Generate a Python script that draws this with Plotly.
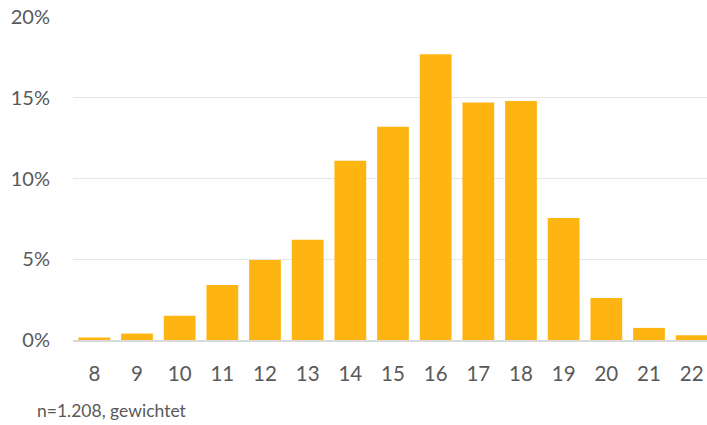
import plotly.graph_objects as go

categories = ["8", "9", "10", "11", "12", "13", "14", "15", "16", "17", "18", "19", "20", "21", "22"]
shares = [0.15, 0.4, 1.5, 3.4, 4.95, 6.2, 11.1, 13.2, 17.7, 14.7, 14.8, 7.55, 2.6, 0.75, 0.3]
y_ticks = [0, 5, 10, 15, 20]
y_tick_labels = ["0%", "5%", "10%", "15%", "20%"]
note = "n=1.208, gewichtet"

font_family = "Lato, Open Sans, sans-serif"
grey = "#595959"

fig = go.Figure(go.Bar(
    x=categories, y=shares,
    marker=dict(color="#FFB511", line=dict(width=0)),
))

fig.update_layout(
    width=707, height=425,
    margin=dict(l=73, r=0, t=17, b=85),
    paper_bgcolor="white", plot_bgcolor="white",
    bargap=0.255,
    showlegend=False,
    font=dict(family=font_family, color=grey, size=20),
    xaxis=dict(
        type="category",
        range=[-0.5, 14.36],
        showgrid=False,
        showline=True, linecolor="#D9D9D9", linewidth=2,
        ticks="", ticklabelstandoff=14,
        tickfont=dict(size=20.5, color=grey, family=font_family),
    ),
    yaxis=dict(
        range=[0, 20],
        tickvals=y_ticks, ticktext=y_tick_labels,
        showgrid=True, gridcolor="#E6E6E6", gridwidth=1,
        zeroline=False, showline=False,
        ticks="", ticklabelstandoff=22,
        tickfont=dict(size=20, color=grey, family=font_family),
    ),
    annotations=[dict(
        text=note, xref="paper", yref="paper",
        x=-38 / 634, y=-70 / 323, xanchor="left", yanchor="middle",
        showarrow=False, font=dict(size=17.5, color=grey, family=font_family),
    )],
)

fig.write_html("out.html")
